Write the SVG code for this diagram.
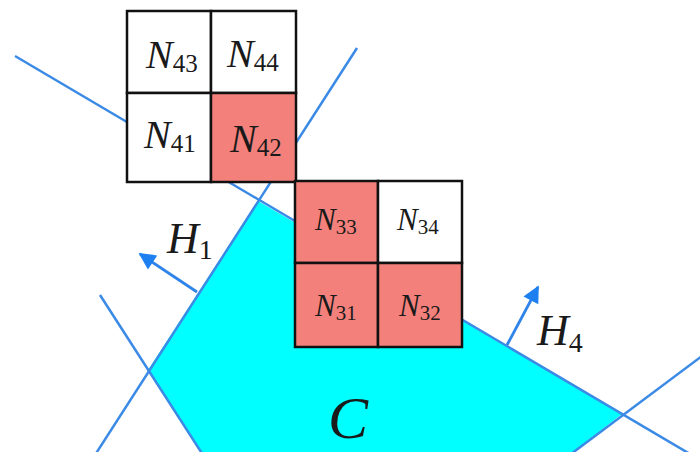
<svg xmlns="http://www.w3.org/2000/svg" width="700" height="452" viewBox="0 0 700 452">
<defs>
<style>
.ln{stroke:#3a8ae6;stroke-width:2.5;fill:none}
.ar{stroke:#2f84ea;stroke-width:2.8;fill:none}
.cell{stroke:#111;stroke-width:2.5}
.w{fill:#ffffff}
.r{fill:#f4807b}
.lbl{font-family:"Liberation Serif","Times New Roman",serif;font-style:italic;fill:#1a1a1a}
.sub{font-style:normal}
</style>
<marker id="ah" viewBox="0 0 10 10" refX="9" refY="5" markerWidth="7" markerHeight="6" markerUnits="strokeWidth" orient="auto">
<path d="M0,0 L10,5 L0,10 Z" fill="#1e80f0"/>
</marker>
</defs>
<rect width="700" height="452" fill="#ffffff"/>
<polygon id="C-region" points="258,201 148,370 201,452 573,452 622,414" fill="#00ffff"/>
<g id="connectors">
<line class="ln" x1="15" y1="56" x2="690" y2="454"/>
<line class="ln" x1="95" y1="455" x2="357" y2="48"/>
<line class="ln" x1="100" y1="295" x2="203" y2="455"/>
<line class="ln" x1="571" y1="454" x2="702" y2="356"/>
<line class="ar" x1="197" y1="292" x2="140" y2="254" marker-end="url(#ah)"/>
<line class="ar" x1="507" y1="345" x2="538" y2="287" marker-end="url(#ah)"/>
</g>
<g id="grid4">
<g id="N43"><rect class="cell w" x="127" y="11" width="84" height="82"/><text class="lbl" x="146" y="68" font-size="40">N<tspan class="sub" font-size="25" dy="4">43</tspan></text></g>
<g id="N44"><rect class="cell w" x="211" y="11" width="85" height="82"/><text class="lbl" x="227" y="67" font-size="40">N<tspan class="sub" font-size="25" dy="4">44</tspan></text></g>
<g id="N41"><rect class="cell w" x="127" y="93" width="84" height="89"/><text class="lbl" x="144" y="148" font-size="40">N<tspan class="sub" font-size="25" dy="4">41</tspan></text></g>
<g id="N42"><rect class="cell r" x="211" y="93" width="85" height="89"/><text class="lbl" x="230" y="152" font-size="40">N<tspan class="sub" font-size="25" dy="4">42</tspan></text></g>
</g>
<g id="grid3">
<g id="N33"><rect class="cell r" x="295" y="181" width="83" height="82"/><text class="lbl" x="315" y="230" font-size="31">N<tspan class="sub" font-size="21" dy="4">33</tspan></text></g>
<g id="N34"><rect class="cell w" x="378" y="181" width="84" height="82"/><text class="lbl" x="397" y="230" font-size="31">N<tspan class="sub" font-size="21" dy="4">34</tspan></text></g>
<g id="N31"><rect class="cell r" x="295" y="263" width="83" height="84"/><text class="lbl" x="315" y="316" font-size="31">N<tspan class="sub" font-size="21" dy="4">31</tspan></text></g>
<g id="N32"><rect class="cell r" x="378" y="263" width="84" height="84"/><text class="lbl" x="399" y="316" font-size="31">N<tspan class="sub" font-size="21" dy="4">32</tspan></text></g>
</g>
<g id="labels">
<text class="lbl" x="167" y="253" font-size="44">H<tspan class="sub" font-size="28" dy="6">1</tspan></text>
<text class="lbl" x="537" y="345" font-size="44">H<tspan class="sub" font-size="28" dy="7">4</tspan></text>
<text class="lbl" x="328" y="438" font-size="60">C</text>
</g>
</svg>
